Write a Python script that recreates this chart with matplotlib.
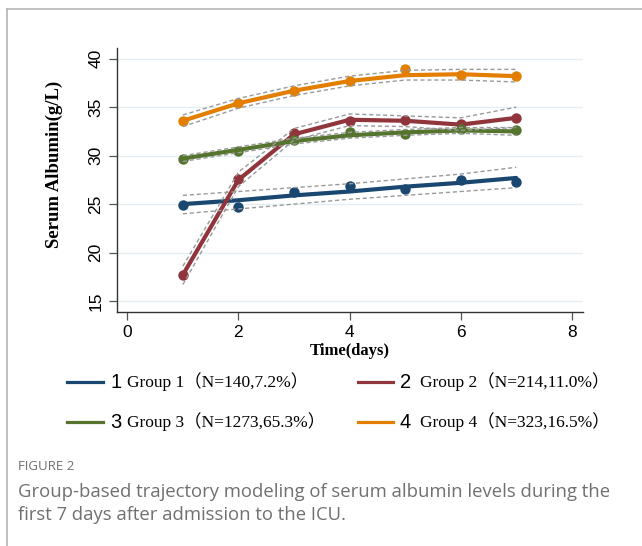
import matplotlib
matplotlib.use("Agg")
import matplotlib.pyplot as plt
from matplotlib.lines import Line2D

# data
days = [1, 2, 3, 4, 5, 6, 7]

obs1 = [24.9, 24.7, 26.2, 26.9, 26.6, 27.5, 27.3]
obs2 = [17.7, 27.6, 32.3, 33.6, 33.7, 33.3, 33.9]
obs3 = [29.7, 30.5, 31.6, 32.4, 32.2, 32.7, 32.6]
obs4 = [33.6, 35.4, 36.7, 37.7, 38.9, 38.3, 38.2]

fit1 = [25.0, 25.4, 25.9, 26.3, 26.8, 27.2, 27.7]
fit2 = [17.7, 27.5, 32.2, 33.7, 33.6, 33.2, 33.9]
fit3 = [29.7, 30.6, 31.5, 32.1, 32.4, 32.6, 32.5]
fit4 = [33.6, 35.4, 36.7, 37.7, 38.3, 38.4, 38.2]

up1 = [25.9, 26.3, 26.7, 27.1, 27.6, 28.1, 28.8]
lo1 = [24.0, 24.5, 25.0, 25.5, 25.9, 26.3, 26.7]
up2 = [18.6, 28.3, 32.8, 34.3, 34.1, 33.9, 35.0]
lo2 = [16.7, 26.8, 31.6, 33.1, 33.0, 32.6, 32.9]
up3 = [30.0, 30.9, 31.8, 32.4, 32.7, 32.9, 32.9]
lo3 = [29.4, 30.3, 31.2, 31.8, 32.1, 32.3, 32.1]
up4 = [34.2, 35.9, 37.2, 38.2, 38.8, 38.9, 38.9]
lo4 = [33.0, 34.9, 36.2, 37.2, 37.8, 37.8, 37.6]

group_nums = ["1", "2", "3", "4"]
group_text = ["Group 1\uff08N=140,7.2%\uff09", "Group 2\uff08N=214,11.0%\uff09",
              "Group 3\uff08N=1273,65.3%\uff09", "Group 4\uff08N=323,16.5%\uff09"]
colors = ["#1a476f", "#90353b", "#55752f", "#e37e00"]

xticks = [0, 2, 4, 6, 8]
yticks = [15, 20, 25, 30, 35, 40]

sans = ["Liberation Sans", "DejaVu Sans"]
serif = ["Liberation Serif", "Noto Sans CJK SC", "DejaVu Sans"]

fig = plt.figure(figsize=(6.42, 5.46), dpi=100)
ax = fig.add_axes([0.1818, 0.4291, 0.7262, 0.4829])

obs = [obs1, obs2, obs3, obs4]
fits = [fit1, fit2, fit3, fit4]
ups = [up1, up2, up3, up4]
los = [lo1, lo2, lo3, lo4]

for y in yticks:
    ax.axhline(y, color="#e3eef2", lw=1.0, zorder=0)

for i in range(4):
    ax.plot(days, fits[i], color=colors[i], lw=3.0, zorder=3, solid_capstyle="round")
    ax.plot(days, obs[i], "o", color=colors[i], ms=7.5, zorder=4, mec="none")
    ax.plot(days, ups[i], color="#9a9a9a", lw=1.0, ls=(0, (3, 2)), zorder=5)
    ax.plot(days, los[i], color="#9a9a9a", lw=1.0, ls=(0, (3, 2)), zorder=5)

ax.set_xlim(-0.19, 8.2)
ax.set_ylim(13.9, 41.1)
ax.set_xticks(xticks)
ax.set_yticks(yticks)
for s in ["top", "right"]:
    ax.spines[s].set_visible(False)
for s in ["left", "bottom"]:
    ax.spines[s].set_color("#333333")
    ax.spines[s].set_linewidth(1.0)
ax.tick_params(length=6, width=0.9, color="#555555", labelsize=12.5)
for lab in ax.get_xticklabels():
    lab.set_family(sans)
for lab in ax.get_yticklabels():
    lab.set_family(sans)
    lab.set_rotation(90)
    lab.set_va("center")

ax.set_xlabel("Time(days)", family=serif, fontweight="bold", fontsize=12, labelpad=2)
ax.set_ylabel("Serum Albumin(g/L)", family=serif, fontweight="bold", fontsize=13.5, labelpad=5)
ax.yaxis.set_label_coords(-0.115, 0.56)

# legend drawn by hand below the plot
rows = [382, 422]
cols = [(67, 103, 110, 127), (358, 393, 400, 420)]
for i in range(4):
    r = rows[i // 2]
    c = cols[i % 2]
    yf = 1 - r / 546
    fig.add_artist(Line2D([c[0] / 642, c[1] / 642], [yf, yf], color=colors[i], lw=2.3))
    fig.text(c[2] / 642, yf, group_nums[i], family=sans, fontsize=14.5, va="center", ha="left")
    fig.text(c[3] / 642, yf, group_text[i], family=serif, fontsize=12.5, va="center", ha="left")

# frame
fig.add_artist(Line2D([7 / 642, 7 / 642], [0, 1 - 8.5 / 546], color="#b5b5b5", lw=1.2))
fig.add_artist(Line2D([7 / 642, 1], [1 - 8.5 / 546, 1 - 8.5 / 546], color="#b5b5b5", lw=1.2))

cap = ["Open Sans", "DejaVu Sans"]
fig.text(18 / 642, 1 - 466 / 546, "FIGURE 2", family=cap, fontsize=9.5, color="#707070", va="center")
fig.text(18 / 642, 1 - 492 / 546, "Group-based trajectory modeling of serum albumin levels during the",
         family=cap, fontsize=13.3, color="#707070", va="center")
fig.text(18 / 642, 1 - 515 / 546, "first 7 days after admission to the ICU.",
         family=cap, fontsize=13.3, color="#707070", va="center")

fig.savefig("out.png", dpi=100)
